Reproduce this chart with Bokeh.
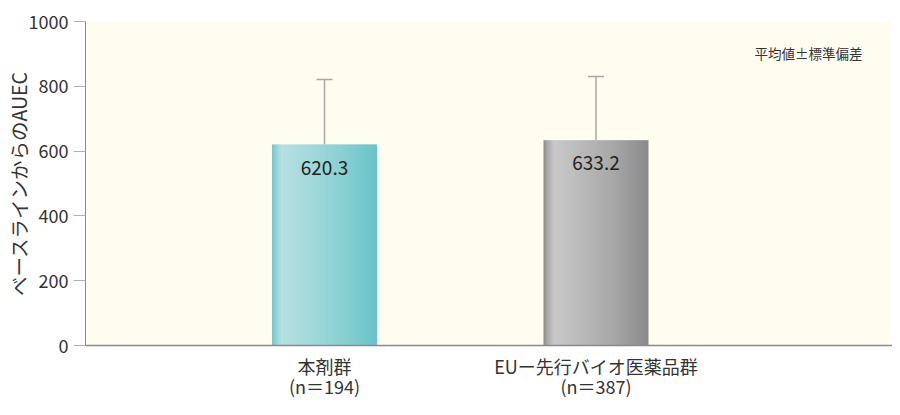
from bokeh.plotting import figure
from bokeh.models import ColumnDataSource, FixedTicker, Label, Whisker, TeeHead, LinearAxis
from bokeh.core.properties import value
from bokeh.embed import file_html
from bokeh.resources import INLINE

# ---- data ----
categories = ["本剤群", "EUー先行バイオ医薬品群"]
group_n = ["(n＝194)", "(n＝387)"]
means = [620.3, 633.2]
sds = [200.5, 197.0]
mean_labels = ["620.3", "633.2"]
y_ticks = [0, 200, 400, 600, 800, 1000]
y_label = "ベースラインからのAUEC"
note = "平均値±標準偏差"

FONT = "Noto Sans CJK JP"

# gradient colour stops (style)
cyan_stops = [(0.0, (0x70, 0xc6, 0xc9)), (0.03, (0x8c, 0xd1, 0xd4)), (0.09, (0xb6, 0xe0, 0xe2)),
              (0.35, (0xa4, 0xda, 0xdc)), (0.7, (0x88, 0xcf, 0xd2)), (1.0, (0x68, 0xc4, 0xc8))]
gray_stops = [(0.0, (0x88, 0x88, 0x88)), (0.03, (0xa6, 0xa6, 0xa6)), (0.10, (0xc8, 0xc8, 0xc8)),
              (0.35, (0xbb, 0xbb, 0xbb)), (0.7, (0xa5, 0xa5, 0xa5)), (1.0, (0x8a, 0x8a, 0x8a))]
bar_stops = [cyan_stops, gray_stops]


def interp(stops, t):
    for (t0, c0), (t1, c1) in zip(stops[:-1], stops[1:]):
        if t0 <= t <= t1:
            f = (t - t0) / (t1 - t0) if t1 > t0 else 0
            c = [int(round(a + (b - a) * f)) for a, b in zip(c0, c1)]
            return "#%02x%02x%02x" % tuple(c)
    return "#%02x%02x%02x" % stops[-1][1]


xpos = [i + 1 for i in range(len(categories))]
bar_w = 0.383
n_strips = 60

p = figure(width=892, height=407, x_range=(0.1197, 3.092), y_range=(0, 1000),
           output_backend="svg", toolbar_location=None,
           min_border_left=85, min_border_right=0, min_border_top=21, min_border_bottom=62)
p.background_fill_color = "#fffdef"
p.outline_line_color = None
p.xgrid.visible = False
p.ygrid.visible = False

# gradient bars built from strips
sx, sy, sc = [], [], []
sw = bar_w / n_strips
for i, (xc, m) in enumerate(zip(xpos, means)):
    for k in range(n_strips):
        t = (k + 0.5) / n_strips
        sx.append(xc - bar_w / 2 + (k + 0.5) * sw)
        sy.append(m)
        sc.append(interp(bar_stops[i], t))
strip_src = ColumnDataSource(dict(x=sx, top=sy, color=sc))
p.vbar(x="x", top="top", bottom=0, width=sw * 1.6, source=strip_src,
       fill_color="color", line_color=None)

# error bars
src = ColumnDataSource(dict(x=xpos, base=means, upper=[m + s for m, s in zip(means, sds)],
                            lbl=mean_labels))
w = Whisker(base="x", lower="base", upper="upper", dimension="height", source=src,
            line_color="#a8a8a8", line_width=1.5,
            upper_head=TeeHead(size=16, line_color="#a8a8a8", line_width=1.5),
            lower_head=None)
p.add_layout(w)

# value labels
p.text(x="x", y="base", text="lbl", source=src, text_align="center", text_baseline="middle",
       y_offset=23, text_font=value(FONT), text_font_size="19px", text_color="#222222")

# note (data position near top right)
p.add_layout(Label(x=2.9816, y=904, text=note, text_align="right", text_baseline="middle",
                   text_font=FONT, text_font_size="13.5px", text_color="#333333"))

# y axis
p.yaxis.ticker = FixedTicker(ticks=y_ticks)
p.yaxis.axis_label = y_label
p.yaxis.axis_label_text_font = FONT
p.yaxis.axis_label_text_font_size = "19.5px"
p.yaxis.axis_label_text_font_style = "normal"
p.yaxis.axis_label_text_color = "#333333"
p.yaxis.axis_label_standoff = -7
p.yaxis.major_label_text_font = FONT
p.yaxis.major_label_text_font_size = "18px"
p.yaxis.major_label_text_color = "#333333"
p.yaxis.major_label_standoff = 5
p.yaxis.major_tick_out = 12
p.yaxis.major_tick_in = 0
p.yaxis.minor_tick_line_color = None
p.yaxis.major_tick_line_color = "#b0b0b0"
p.yaxis.axis_line_color = "#8a8a8a"

# x axis: group names
p.xaxis.ticker = FixedTicker(ticks=xpos)
p.xaxis.major_label_overrides = {x: c for x, c in zip(xpos, categories)}
p.xaxis.major_label_text_font = FONT
p.xaxis.major_label_text_font_size = "18px"
p.xaxis.major_label_text_color = "#333333"
p.xaxis.major_label_standoff = 7
p.xaxis.major_tick_out = 0
p.xaxis.major_tick_in = 0
p.xaxis.major_tick_line_color = None
p.xaxis.minor_tick_line_color = None
p.xaxis.axis_line_color = "#8a8a8a"
p.xaxis.axis_line_width = 1.5

# second row of x labels: group sizes
ax2 = LinearAxis(ticker=FixedTicker(ticks=xpos),
                 major_label_overrides={x: c for x, c in zip(xpos, group_n)},
                 major_label_text_font=FONT, major_label_text_font_size="18px",
                 major_label_text_color="#333333", major_label_standoff=-9,
                 major_tick_out=0, major_tick_in=0, major_tick_line_color=None,
                 minor_tick_line_color=None, axis_line_color=None)
p.add_layout(ax2, "below")

open("out.html", "w").write(file_html(p, INLINE))
